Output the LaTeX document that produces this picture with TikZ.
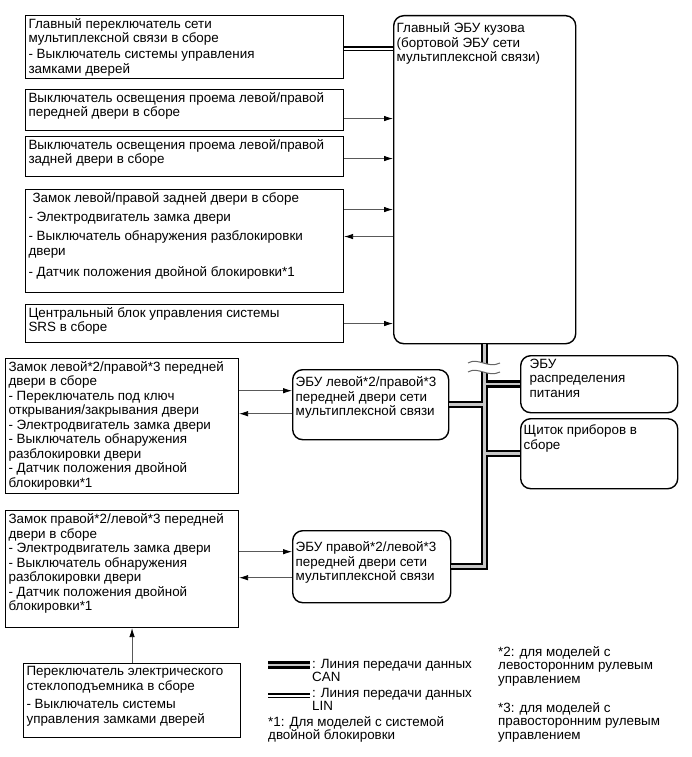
\documentclass[tikz,border=0pt]{standalone}
\usepackage{fontspec}
\setmainfont{Liberation Sans}
\usetikzlibrary{arrows.meta, positioning}

\tikzset{
  blk/.style={draw, line width=1.1pt, inner xsep=3pt, inner ysep=3pt, anchor=north west,
    font=\fontsize{13.4}{14.5}\selectfont},
  ecu/.style={blk, rounded corners=10pt, line width=1.4pt},
  note/.style={anchor=north west, inner sep=0pt, align=left, font=\fontsize{13.4}{13.5}\selectfont},
  sig/.style={draw=black!65, line width=0.8pt, -{Latex[length=9pt,width=5.5pt,black]}},
  canbus/.style={line width=2.5pt, double=black!22, double distance=2.5pt},
  linbus/.style={line width=2.6pt, postaction={draw, line width=0.8pt, transform canvas={yshift=-3.2pt}}},
}
\newcommand{\inbox}[3]{\parbox[t][#2][t]{#1}{\raggedright #3}}

\begin{document}
\begin{tikzpicture}[x=1pt, y=-1pt]
    \useasboundingbox (0,0) rectangle (691,757);

    % Main body ECU
    \node[ecu] (bcm) at (393,15) {\inbox{176pt}{322pt}{\vspace*{4pt}Главный ЭБУ кузова\\ (бортовой ЭБУ сети\\ мультиплексной связи)}};

    % Inputs of the main body ECU
    \node[blk] (swA) at (25,15) {\inbox{312pt}{57pt}{Главный переключатель сети\\ мультиплексной связи в сборе\\[1.5pt] - Выключатель системы управления\\ замками дверей}};
    \node[blk] (swB) at (25,89) {\inbox{312pt}{35pt}{Выключатель освещения проема левой/правой\\ передней двери в сборе}};
    \node[blk] (swC) at (25,136) {\inbox{312pt}{34pt}{Выключатель освещения проема левой/правой\\ задней двери в сборе}};
    \node[blk] (lockR) at (25,189) {\inbox{312pt}{97pt}{\hspace{4pt}Замок левой/правой задней двери в сборе\\[5pt] - Электродвигатель замка двери\\[4.5pt] - Выключатель обнаружения разблокировки\\ двери\\[7pt] - Датчик положения двойной блокировки*1}};
    \node[blk] (srs) at (25,304) {\inbox{312pt}{32pt}{Центральный блок управления системы\\ SRS в сборе}};

    % Door ECUs and other bus members
    \node[ecu] (ecuF1) at (292,369) {\inbox{150pt}{64pt}{\vspace*{4pt}ЭБУ левой*2/правой*3\\ передней двери сети\\ мультиплексной связи}};
    \node[ecu] (ecuF2) at (292,530) {\inbox{152pt}{66pt}{\vspace*{8pt}ЭБУ правой*2/левой*3\\ передней двери сети\\ мультиплексной связи}};
    \node[ecu] (pwr) at (520,355) {\inbox{151pt}{51pt}{\hspace*{6pt}ЭБУ\\ \hspace*{6pt}распределения\\ \hspace*{6pt}питания}};
    \node[ecu] (meter) at (520,418) {\inbox{151pt}{64pt}{\vspace*{3pt}Щиток приборов в\\ сборе}};

    % Front door locks and power window switch
    \node[blk] (lockF1) at (5,358) {\inbox{227pt}{129pt}{Замок левой*2/правой*3 передней\\ двери в сборе\\ - Переключатель под ключ\\ открывания/закрывания двери\\ - Электродвигатель замка двери\\ - Выключатель обнаружения\\ разблокировки двери\\ - Датчик положения двойной\\ блокировки*1}};
    \node[blk] (lockF2) at (5,510) {\inbox{227pt}{111pt}{Замок правой*2/левой*3 передней\\ двери в сборе\\ - Электродвигатель замка двери\\ - Выключатель обнаружения\\ разблокировки двери\\ - Датчик положения двойной\\ блокировки*1}};
    \node[blk] (pws) at (23,663) {\inbox{211pt}{68pt}{Переключатель электрического\\ стеклоподъемника в сборе\\[4pt] - Выключатель системы\\ управления замками дверей}};

    % LIN and signal lines
    \draw[linbus] (swA.east) -- (swA.east -| bcm.west);
    \draw[sig] ([yshift=-8.5pt]swB.east) -- ([yshift=-8.5pt]swB.east -| bcm.west);
    \draw[sig] ([yshift=-2pt]swC.east) -- ([yshift=-2pt]swC.east -| bcm.west);
    \draw[sig] ([yshift=31.5pt]lockR.east) -- ([yshift=31.5pt]lockR.east -| bcm.west);
    \draw[sig] ([yshift=4.5pt]lockR.east -| bcm.west) -- ([yshift=4.5pt]lockR.east);
    \draw[sig] (srs.east) -- (srs.east -| bcm.west);
    \draw[sig] ([yshift=14pt]ecuF1.west -| lockF1.east) -- ([yshift=14pt]ecuF1.west);
    \draw[sig] ([yshift=-9pt]ecuF1.west) -- ([yshift=-9pt]ecuF1.west -| lockF1.east);
    \draw[sig] ([yshift=15pt]ecuF2.west -| lockF2.east) -- ([yshift=15pt]ecuF2.west);
    \draw[sig] ([yshift=-11pt]ecuF2.west) -- ([yshift=-11pt]ecuF2.west -| lockF2.east);
    \draw[sig] (pws.north) -- (pws.north |- lockF2.south);

    % CAN bus
    \draw[canbus] (bcm.south) |- (ecuF2.east)
        (ecuF1.east) -- (ecuF1.east -| bcm.south)
        (pwr.west) -- (pwr.west -| bcm.south)
        (meter.west) -- (meter.west -| bcm.south);

    % break in the bus
    \fill[white] (468,363) .. controls (478,357) and (488,369) .. (500,363)
        -- (500,372) .. controls (488,378) and (478,366) .. (468,372) -- cycle;
    \draw[black!60, line width=1pt] (468,363) .. controls (478,357) and (488,369) .. (500,363);
    \draw[black!60, line width=1pt] (468,372) .. controls (478,366) and (488,378) .. (500,372);

    % Legend
    \draw[canbus] (268,665) -- (310,665);
    \draw[linbus] (268,694) -- (310,694);
    \node[note] (canTxt) at (312,659) {: Линия передачи данных\\ CAN};
    \node[note] (linTxt) at (312,688) {: Линия передачи данных\\ LIN};
    \node[note] (note1) at (268,716) {*1: Для моделей с системой\\ двойной блокировки};
    \node[note] (note2) at (498,646) {*2: для моделей с\\ левосторонним рулевым\\ управлением};
    \node[note] (note3) at (498,702) {*3: для моделей с\\ правосторонним рулевым\\ управлением};
\end{tikzpicture}
\end{document}
